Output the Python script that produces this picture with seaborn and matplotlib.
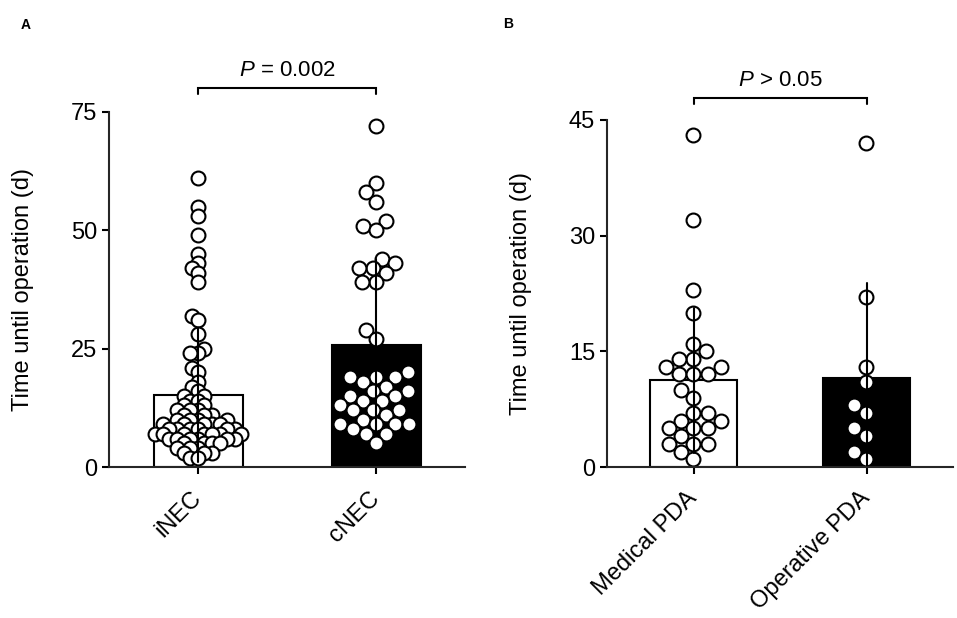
import numpy as np
import pandas as pd
import matplotlib
matplotlib.use("Agg")
import matplotlib.pyplot as plt
import seaborn as sns

# -----------------------------
# Data
# -----------------------------
nec_groups = ["iNEC", "cNEC"]
inec = [61, 55, 53, 49, 45, 43, 42, 41, 39, 32, 31, 28, 25, 24, 24, 21, 20, 18,
        17, 16, 15, 15, 14, 14, 13, 13, 12, 12, 12, 11, 11, 11, 10, 10, 10, 10,
        9, 9, 9, 9, 9, 8, 8, 8, 8, 8, 8, 7, 7, 7, 7, 7, 7, 7, 6, 6, 6, 6, 6, 6,
        5, 5, 5, 5, 4, 4, 4, 3, 3, 3, 2, 2]
cnec = [72, 60, 58, 56, 52, 51, 50, 44, 43, 42, 42, 41, 39, 39, 29, 27,
        20, 19, 19, 19, 18, 17, 16, 16, 15, 15, 14, 14, 13, 12, 12, 12, 11,
        10, 9, 9, 9, 9, 8, 7, 7, 5]

pda_groups = ["Medical PDA", "Operative PDA"]
medical_pda = [43, 32, 23, 20, 16, 15, 14, 14, 13, 13, 12, 12, 12, 10, 9,
               7, 7, 6, 6, 5, 5, 5, 4, 3, 3, 3, 2, 1]
operative_pda = [42, 22, 13, 11, 8, 7, 5, 4, 2, 1]

nec_ticks = [0, 25, 50, 75]
pda_ticks = [0, 15, 30, 45]
p_nec = "$P$ = 0.002"
p_pda = "$P$ > 0.05"
y_label = "Time until operation (d)"

# -----------------------------
# Style
# -----------------------------
sns.set_style("ticks")
plt.rcParams["font.family"] = ["Liberation Sans", "DejaVu Sans"]
plt.rcParams["mathtext.fontset"] = "custom"
plt.rcParams["mathtext.rm"] = "Liberation Sans"
plt.rcParams["mathtext.it"] = "Liberation Sans:italic"
plt.rcParams["text.color"] = "black"
plt.rcParams["axes.labelcolor"] = "black"

W, H = 957, 618
fig = plt.figure(figsize=(W / 100, H / 100), dpi=100)
axA = fig.add_axes([109 / W, 1 - 467 / H, 356 / W, 355 / H])
axB = fig.add_axes([607 / W, 1 - 467 / H, 346 / W, 347 / H])

LW = 1.5
DOT = 10.0


def to_long(labels, groups):
    return pd.DataFrame({
        "group": np.repeat(labels, [len(g) for g in groups]),
        "value": np.concatenate([np.asarray(g, float) for g in groups]),
    })


def panel(ax, labels, groups, ymax, ticks, layout_sizes):
    df = to_long(labels, groups)
    sns.barplot(data=df, x="group", y="value", hue="group",
                palette=["white", "black"], errorbar="sd", width=0.5,
                linewidth=LW, edgecolor="black", legend=False,
                err_kws={"color": "black", "linewidth": LW}, ax=ax)
    sns.swarmplot(data=df, x="group", y="value", color="white",
                  edgecolor="black", linewidth=LW, size=DOT,
                  warn_thresh=1, ax=ax)
    # collision size used for the swarm layout, per group
    for coll, ls in zip(ax.collections, layout_sizes):
        coll.set_sizes([ls ** 2])
        coll.set_zorder(3)
        coll.set_clip_on(False)
    for line in ax.lines:
        line.set_zorder(4)
    ax.set_xlim(-0.5, 1.5)
    ax.set_ylim(0, ymax)
    ax.set_yticks(ticks)
    ax.set_xlabel("")
    ax.set_ylabel(y_label, fontsize=17)
    sns.despine(ax=ax)
    for s in ["left", "bottom"]:
        ax.spines[s].set_linewidth(LW)
        ax.spines[s].set_zorder(5)
    ax.tick_params(axis="both", length=5, width=LW, labelsize=17,
                   color="black", labelcolor="black")
    ax.tick_params(axis="x", pad=15)
    plt.setp(ax.get_xticklabels(), rotation=45, ha="right", va="center",
             rotation_mode="anchor")


def bracket(ax, y, drop, text):
    ax.plot([0, 0, 1, 1], [y - drop, y, y, y - drop], color="black",
            linewidth=LW, clip_on=False, solid_joinstyle="miter")
    ax.annotate(text, xy=(0.5, y), xytext=(0, 5), textcoords="offset points",
                ha="center", va="bottom", fontsize=16, annotation_clip=False)


panel(axA, nec_groups, [inec, cnec], 75, nec_ticks, layout_sizes=[4.0, 8.0])
panel(axB, pda_groups, [medical_pda, operative_pda], 45, pda_ticks,
      layout_sizes=[8.6, 8.6])

axA.yaxis.set_label_coords(-0.211, 0.5)
axB.yaxis.set_label_coords(-0.217, 0.5)

bracket(axA, 80, 1.3, p_nec)
bracket(axB, 47.85, 0.8, p_pda)

fig.text(26 / W, 1 - 25 / H, "A", fontsize=10, fontweight="bold",
         ha="center", va="center")
fig.text(508 / W, 1 - 24 / H, "B", fontsize=10, fontweight="bold",
         ha="center", va="center")

# lay out the swarms with the smaller collision sizes, then grow the dots
# so they overlap like in the original figure
fig.canvas.draw()
for ax in (axA, axB):
    for coll in ax.collections:
        if "draw" in coll.__dict__:
            del coll.draw
        coll.set_sizes([DOT ** 2])

fig.savefig("out.png", dpi=100)
